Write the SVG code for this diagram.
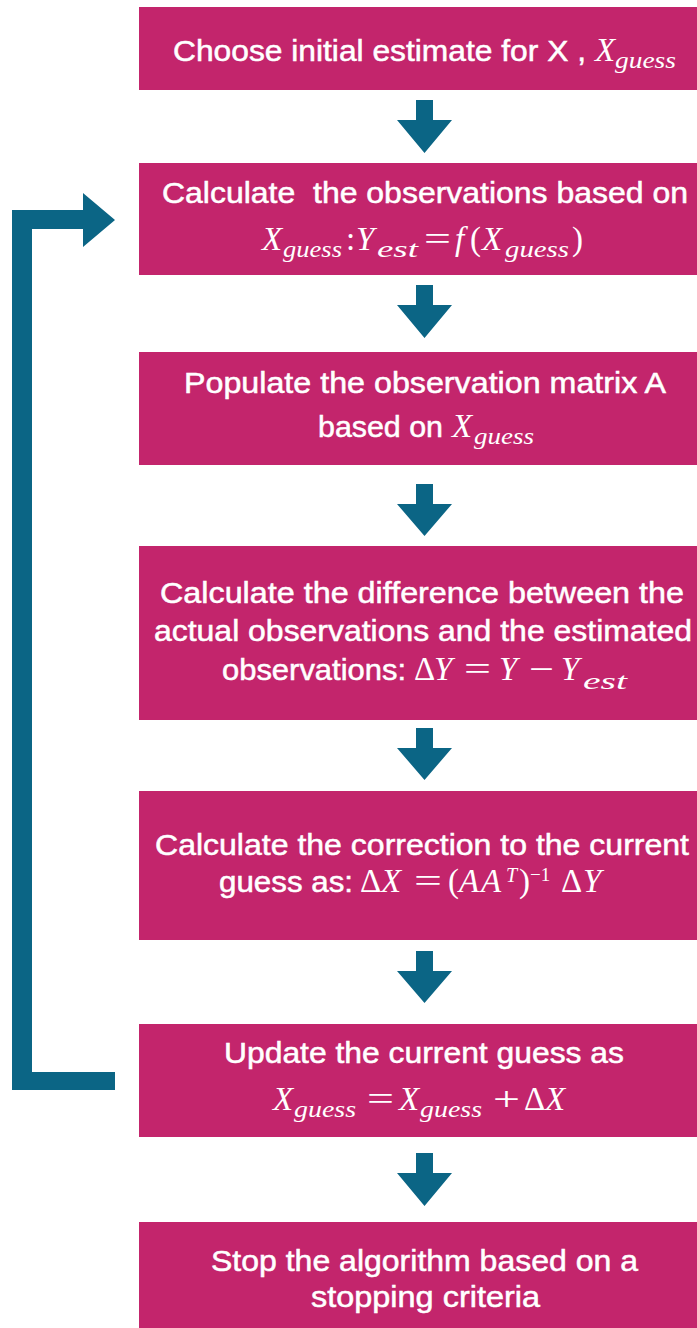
<svg xmlns="http://www.w3.org/2000/svg" width="697" height="1328" viewBox="0 0 697 1328">
<style>
.box{fill:#C3256C}
.arr{fill:#0B6585}
.t{font-family:"Liberation Sans",Arial,sans-serif;font-size:29px;fill:#fff;stroke:#fff;stroke-width:0.5px}
.m{font-family:"Liberation Serif","Times New Roman",serif;font-style:italic;font-size:33px;fill:#fff}
.u{font-family:"Liberation Serif","Times New Roman",serif;font-size:33px;fill:#fff}
.s{font-family:"Liberation Serif","Times New Roman",serif;font-style:italic;font-size:23px;fill:#fff}
.si{font-family:"Liberation Serif","Times New Roman",serif;font-style:italic;font-size:20px;fill:#fff}
.sp{font-family:"Liberation Serif","Times New Roman",serif;font-size:19px;fill:#fff}
</style>
<rect width="697" height="1328" fill="#fff"/>
<g id="connectors">
<path class="arr" d="M416 100H433V120H452L424.5 153L397 120H416Z"/>
<path class="arr" d="M416 285H433V305H452L424.5 338L397 305H416Z"/>
<path class="arr" d="M416 484H433V504H452L424.5 536L397 504H416Z"/>
<path class="arr" d="M416 728H433V748H452L424.5 780L397 748H416Z"/>
<path class="arr" d="M416 951H433V971H452L424.5 1003L397 971H416Z"/>
<path class="arr" d="M416 1153H433V1173H452L424.5 1206L397 1173H416Z"/>
<path class="arr" d="M115 1090H12V210H83V193L115 220L83 247V229H32V1072H115Z"/>
</g>
<g id="n1">
<rect class="box" x="139" y="7" width="560" height="83"/>
<text class="t" x="173" y="61" textLength="413" lengthAdjust="spacingAndGlyphs">Choose initial estimate for X ,</text>
<text class="m" x="595" y="61">X</text>
<text class="s" x="615" y="68" textLength="61" lengthAdjust="spacingAndGlyphs">guess</text>
</g>
<g id="n2">
<rect class="box" x="139" y="163" width="560" height="112"/>
<text class="t" x="162" y="203" textLength="526" lengthAdjust="spacingAndGlyphs">Calculate&#160; the observations based on</text>
<text class="m" x="262" y="250">X</text>
<text class="s" x="283" y="257" textLength="59" lengthAdjust="spacingAndGlyphs">guess</text>
<text class="u" x="346" y="250">:</text>
<text class="m" x="356" y="250">Y</text>
<text class="s" x="377" y="257" textLength="41" lengthAdjust="spacingAndGlyphs">est</text>
<text class="u" x="424" y="250" textLength="27" lengthAdjust="spacingAndGlyphs">=</text>
<text class="m" x="455" y="250">f</text>
<text class="u" x="470" y="250">(</text>
<text class="m" x="482" y="250">X</text>
<text class="s" x="505" y="257" textLength="64" lengthAdjust="spacingAndGlyphs">guess</text>
<text class="u" x="572" y="250">)</text>
</g>
<g id="n3">
<rect class="box" x="139" y="352" width="560" height="113"/>
<text class="t" x="184" y="393" textLength="482" lengthAdjust="spacingAndGlyphs">Populate the observation matrix A</text>
<text class="t" x="318" y="437" textLength="125" lengthAdjust="spacingAndGlyphs">based on</text>
<text class="m" x="452" y="437">X</text>
<text class="s" x="474" y="444" textLength="60" lengthAdjust="spacingAndGlyphs">guess</text>
</g>
<g id="n4">
<rect class="box" x="139" y="546" width="560" height="174"/>
<text class="t" x="160" y="603" textLength="524" lengthAdjust="spacingAndGlyphs">Calculate the difference between the</text>
<text class="t" x="154" y="641" textLength="538" lengthAdjust="spacingAndGlyphs">actual observations and the estimated</text>
<text class="t" x="222" y="680" textLength="184" lengthAdjust="spacingAndGlyphs">observations:</text>
<text class="u" x="414" y="680">Δ</text>
<text class="m" x="434" y="680">Y</text>
<text class="u" x="464" y="680" textLength="27" lengthAdjust="spacingAndGlyphs">=</text>
<text class="m" x="499" y="680">Y</text>
<text class="u" x="529" y="680" textLength="25" lengthAdjust="spacingAndGlyphs">−</text>
<text class="m" x="561" y="680">Y</text>
<text class="s" x="583" y="689" textLength="44" lengthAdjust="spacingAndGlyphs">est</text>
</g>
<g id="n5">
<rect class="box" x="139" y="791" width="560" height="149"/>
<text class="t" x="155" y="855" textLength="534" lengthAdjust="spacingAndGlyphs">Calculate the correction to the current</text>
<text class="t" x="219" y="892" textLength="134" lengthAdjust="spacingAndGlyphs">guess as:</text>
<text class="u" x="360" y="892">Δ</text>
<text class="m" x="381" y="892">X</text>
<text class="u" x="414" y="892" textLength="28" lengthAdjust="spacingAndGlyphs">=</text>
<text class="u" x="448" y="892">(</text>
<text class="m" x="459" y="892">A</text>
<text class="m" x="481" y="892">A</text>
<text class="si" x="506" y="882">T</text>
<text class="u" x="519" y="892">)</text>
<text class="sp" x="530" y="881">−1</text>
<text class="u" x="561" y="892">Δ</text>
<text class="m" x="583" y="892">Y</text>
</g>
<g id="n6">
<rect class="box" x="139" y="1024" width="560" height="113"/>
<text class="t" x="224" y="1063" textLength="400" lengthAdjust="spacingAndGlyphs">Update the current guess as</text>
<text class="m" x="273" y="1110">X</text>
<text class="s" x="294" y="1117" textLength="62" lengthAdjust="spacingAndGlyphs">guess</text>
<text class="u" x="367" y="1110" textLength="27" lengthAdjust="spacingAndGlyphs">=</text>
<text class="m" x="399" y="1110">X</text>
<text class="s" x="420" y="1117" textLength="62" lengthAdjust="spacingAndGlyphs">guess</text>
<text class="u" x="493" y="1110" textLength="27" lengthAdjust="spacingAndGlyphs">+</text>
<text class="u" x="524" y="1110">Δ</text>
<text class="m" x="545" y="1110">X</text>
</g>
<g id="n7">
<rect class="box" x="139" y="1222" width="560" height="106"/>
<text class="t" x="211" y="1271" textLength="427" lengthAdjust="spacingAndGlyphs">Stop the algorithm based on a</text>
<text class="t" x="311" y="1307" textLength="229" lengthAdjust="spacingAndGlyphs">stopping criteria</text>
</g>
</svg>
